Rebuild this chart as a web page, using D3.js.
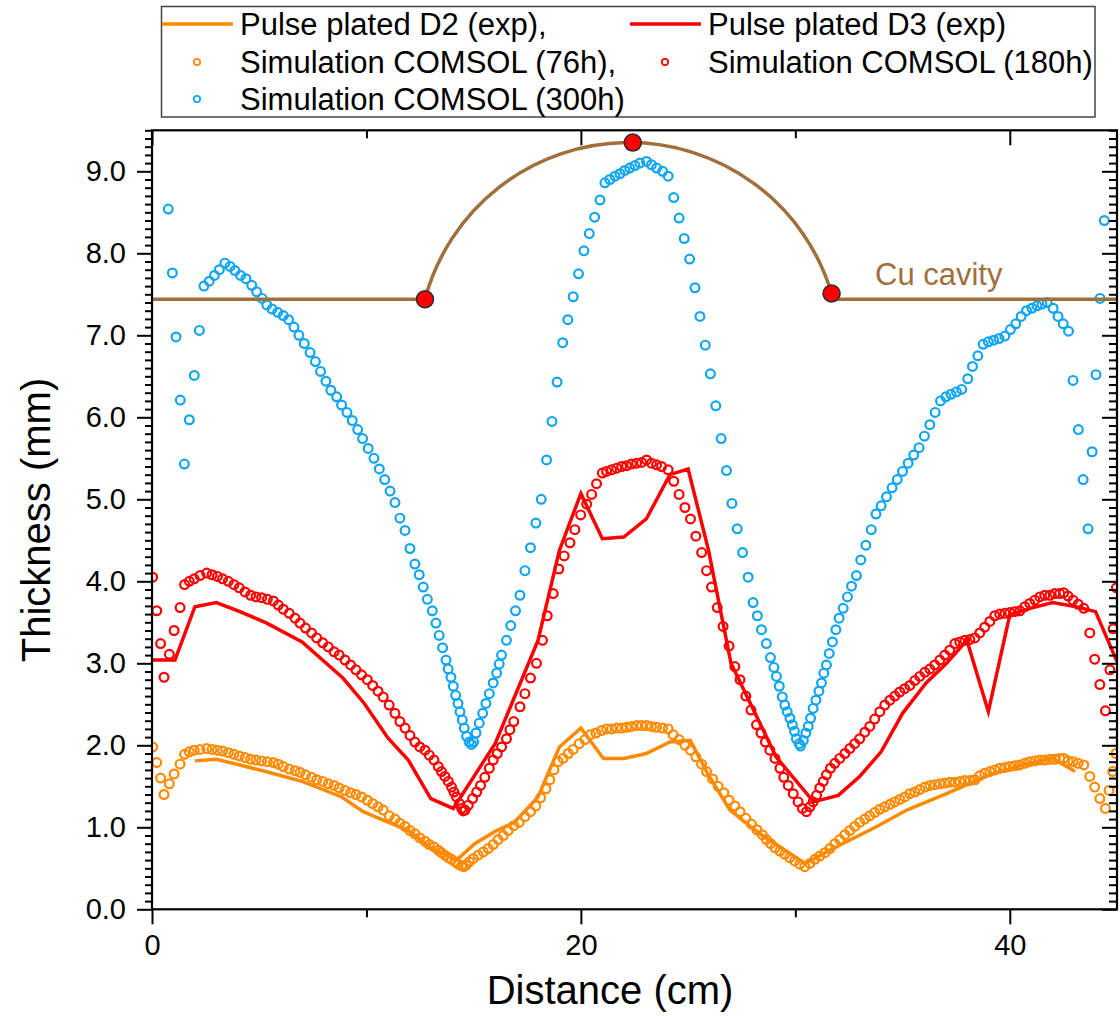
<!DOCTYPE html>
<html>
<head>
<meta charset="utf-8">
<script src="https://cdn.jsdelivr.net/npm/d3@7"></script>
<style>
  body { margin: 0; background: #fff; }
  svg { font-family: Arial, "Liberation Sans", sans-serif; }
</style>
</head>
<body>
<div id="chart"></div>
<script>
// experimental thickness profiles, [distance cm, thickness mm]
var d2Exp = [[2.0,1.81],[3.0,1.83],[4.1,1.76],[5.3,1.68],[7.0,1.56],[8.85,1.37],[9.85,1.19],[10.95,1.07],[11.9,0.97],[12.95,0.76],[14.2,0.6],[15.05,0.8],[16.0,0.95],[16.9,1.06],[18.0,1.37],[19.0,1.98],[20.0,2.21],[21.05,1.84],[22.0,1.84],[23.05,1.9],[24.15,2.04],[25.1,2.06],[25.9,1.66],[26.95,1.21],[28.3,0.93],[30.45,0.56],[31.9,0.76],[33.8,1.01],[35.2,1.21],[37.05,1.41],[39.05,1.64],[40.6,1.76],[42.0,1.84],[43.05,1.68]];
var d3Exp = [[0,3.04],[1.07,3.04],[2.0,3.69],[3.0,3.74],[4.1,3.63],[5.35,3.49],[7.0,3.26],[8.9,2.82],[9.9,2.51],[11.0,2.09],[11.95,1.82],[13.0,1.35],[14.05,1.23],[16.0,2.02],[18.0,3.28],[19.0,4.38],[20.0,5.07],[21.0,4.52],[22.0,4.54],[23.05,4.76],[24.15,5.3],[25.0,5.37],[25.95,4.38],[27.0,3.0],[29.1,1.86],[30.85,1.31],[32.0,1.39],[33.0,1.62],[34.0,1.92],[35.0,2.39],[36.1,2.76],[37.05,3.0],[38.0,3.28],[39.0,2.41],[40.0,3.59],[40.95,3.67],[42.0,3.74],[43.1,3.69],[44.0,3.63],[45.0,3.02]];

// COMSOL simulations
var sim76 = [[0.03,1.98],[0.22,1.79],[0.4,1.6],[0.56,1.4],[0.81,1.53],[1.03,1.65],[1.31,1.77],[1.52,1.89],[1.74,1.92],[1.97,1.94],[2.24,1.95],[2.55,1.96],[2.8,1.95],[3.05,1.94],[3.29,1.93],[3.56,1.91],[3.82,1.89],[4.07,1.87],[4.34,1.85],[4.6,1.83],[4.85,1.82],[5.11,1.81],[5.38,1.8],[5.66,1.79],[5.89,1.77],[6.12,1.74],[6.4,1.71],[6.67,1.69],[6.9,1.67],[7.16,1.64],[7.44,1.61],[7.68,1.58],[7.96,1.56],[8.22,1.53],[8.49,1.51],[8.73,1.48],[9.0,1.45],[9.26,1.42],[9.51,1.4],[9.77,1.37],[10.04,1.33],[10.29,1.29],[10.54,1.25],[10.78,1.21],[11.06,1.14],[11.33,1.1],[11.56,1.05],[11.8,1.01],[12.03,0.96],[12.26,0.92],[12.49,0.87],[12.73,0.83],[12.93,0.79],[13.15,0.76],[13.35,0.72],[13.5,0.69],[13.66,0.66],[13.82,0.63],[13.97,0.61],[14.13,0.58],[14.28,0.55],[14.44,0.53],[14.54,0.52],[14.65,0.54],[14.8,0.58],[14.98,0.62],[15.21,0.66],[15.45,0.7],[15.68,0.74],[15.91,0.79],[16.14,0.85],[16.38,0.9],[16.61,0.96],[16.87,1.02],[17.12,1.06],[17.39,1.13],[17.65,1.19],[17.9,1.26],[18.12,1.36],[18.37,1.47],[18.55,1.58],[18.74,1.7],[18.94,1.8],[19.17,1.84],[19.41,1.9],[19.64,1.95],[19.92,2.02],[20.19,2.07],[20.45,2.13],[20.7,2.15],[20.96,2.18],[21.2,2.2],[21.43,2.2],[21.67,2.21],[21.9,2.21],[22.13,2.22],[22.36,2.23],[22.6,2.24],[22.83,2.24],[23.06,2.24],[23.29,2.23],[23.53,2.22],[23.81,2.21],[24.07,2.2],[24.3,2.13],[24.58,2.07],[24.85,2.0],[25.11,1.94],[25.36,1.86],[25.63,1.77],[25.86,1.68],[26.14,1.59],[26.4,1.5],[26.67,1.42],[26.91,1.33],[27.18,1.26],[27.42,1.19],[27.69,1.11],[27.95,1.04],[28.21,0.97],[28.46,0.91],[28.65,0.85],[28.85,0.8],[29.05,0.75],[29.28,0.71],[29.51,0.67],[29.74,0.63],[29.97,0.59],[30.21,0.55],[30.44,0.52],[30.68,0.56],[30.91,0.61],[31.14,0.65],[31.38,0.69],[31.61,0.74],[31.84,0.8],[32.07,0.85],[32.31,0.91],[32.54,0.96],[32.77,1.01],[33.0,1.06],[33.24,1.1],[33.47,1.14],[33.7,1.18],[33.94,1.22],[34.17,1.25],[34.41,1.28],[34.64,1.31],[34.87,1.34],[35.1,1.37],[35.34,1.41],[35.57,1.43],[35.8,1.46],[36.04,1.49],[36.27,1.51],[36.5,1.52],[36.74,1.53],[36.97,1.54],[37.2,1.55],[37.44,1.55],[37.67,1.56],[37.9,1.57],[38.14,1.57],[38.37,1.58],[38.6,1.63],[38.83,1.66],[39.07,1.68],[39.3,1.7],[39.53,1.72],[39.77,1.73],[40.0,1.74],[40.23,1.75],[40.47,1.76],[40.7,1.78],[40.93,1.8],[41.17,1.81],[41.4,1.82],[41.63,1.82],[41.87,1.83],[42.1,1.83],[42.33,1.84],[42.52,1.84],[42.72,1.81],[42.95,1.8],[43.19,1.78],[43.45,1.76],[43.73,1.62],[43.96,1.49],[44.2,1.35],[44.46,1.23],[44.63,1.45],[44.8,1.68],[44.95,1.9]];
var sim180 = [[0.03,4.05],[0.22,3.64],[0.4,3.24],[0.56,2.83],[0.81,3.11],[1.03,3.4],[1.31,3.68],[1.52,3.96],[1.74,4.0],[1.97,4.03],[2.24,4.07],[2.55,4.1],[2.8,4.08],[3.05,4.06],[3.29,4.03],[3.56,4.0],[3.82,3.96],[4.07,3.92],[4.34,3.87],[4.6,3.83],[4.85,3.81],[5.11,3.8],[5.38,3.78],[5.66,3.76],[5.89,3.71],[6.12,3.66],[6.4,3.61],[6.67,3.55],[6.9,3.49],[7.16,3.43],[7.44,3.37],[7.68,3.31],[7.96,3.25],[8.22,3.2],[8.49,3.14],[8.73,3.1],[9.0,3.04],[9.26,2.98],[9.51,2.92],[9.77,2.86],[10.04,2.8],[10.29,2.73],[10.54,2.66],[10.78,2.59],[11.06,2.49],[11.33,2.39],[11.56,2.29],[11.8,2.21],[12.03,2.12],[12.26,2.04],[12.49,1.98],[12.73,1.94],[12.93,1.88],[13.15,1.82],[13.35,1.74],[13.5,1.68],[13.66,1.62],[13.82,1.56],[13.97,1.49],[14.08,1.43],[14.2,1.37],[14.33,1.29],[14.44,1.23],[14.51,1.2],[14.6,1.21],[14.75,1.27],[14.95,1.35],[15.14,1.43],[15.32,1.51],[15.52,1.61],[15.73,1.72],[15.91,1.82],[16.1,1.9],[16.3,1.98],[16.53,2.08],[16.69,2.19],[16.87,2.29],[17.16,2.47],[17.39,2.63],[17.65,2.82],[17.93,3.0],[18.21,3.28],[18.43,3.58],[18.71,3.85],[18.97,4.15],[19.22,4.31],[19.49,4.47],[19.72,4.63],[19.99,4.81],[20.27,4.94],[20.5,5.06],[20.73,5.19],[21.0,5.32],[21.2,5.34],[21.43,5.36],[21.67,5.38],[21.9,5.4],[22.13,5.41],[22.36,5.43],[22.6,5.44],[22.83,5.45],[23.06,5.48],[23.29,5.44],[23.53,5.42],[23.76,5.4],[24.07,5.36],[24.33,5.22],[24.58,5.06],[24.85,4.9],[25.11,4.76],[25.36,4.55],[25.63,4.35],[25.86,4.13],[26.09,3.93],[26.36,3.68],[26.63,3.45],[26.91,3.21],[27.18,2.96],[27.42,2.8],[27.69,2.6],[27.93,2.43],[28.19,2.25],[28.4,2.15],[28.6,2.04],[28.81,1.94],[29.05,1.84],[29.28,1.72],[29.46,1.61],[29.67,1.51],[29.9,1.41],[30.13,1.31],[30.33,1.23],[30.52,1.19],[30.68,1.25],[30.83,1.31],[30.99,1.39],[31.14,1.48],[31.3,1.56],[31.45,1.64],[31.64,1.72],[31.84,1.78],[32.07,1.84],[32.31,1.9],[32.54,1.96],[32.77,2.02],[33.0,2.08],[33.24,2.16],[33.47,2.23],[33.7,2.32],[33.94,2.41],[34.17,2.49],[34.41,2.55],[34.64,2.6],[34.87,2.65],[35.1,2.69],[35.34,2.73],[35.57,2.79],[35.8,2.84],[36.04,2.89],[36.27,2.93],[36.5,2.98],[36.74,3.04],[36.97,3.1],[37.2,3.16],[37.44,3.24],[37.67,3.26],[37.9,3.28],[38.14,3.29],[38.37,3.31],[38.6,3.37],[38.83,3.44],[39.07,3.51],[39.3,3.58],[39.53,3.6],[39.77,3.61],[40.0,3.62],[40.23,3.63],[40.47,3.64],[40.7,3.69],[40.93,3.73],[41.17,3.77],[41.4,3.81],[41.63,3.83],[41.87,3.83],[42.1,3.85],[42.33,3.85],[42.52,3.86],[42.72,3.82],[42.95,3.77],[43.19,3.72],[43.45,3.67],[43.73,3.37],[43.96,3.05],[44.2,2.74],[44.46,2.42],[44.67,2.92],[44.82,3.42],[44.97,3.92]];
var sim300 = [[0.76,8.54],[0.95,7.76],[1.12,6.98],[1.32,6.21],[1.51,5.43],[1.74,5.97],[1.97,6.51],[2.21,7.06],[2.42,7.6],[2.67,7.66],[2.91,7.73],[3.14,7.8],[3.4,7.88],[3.64,7.84],[3.87,7.79],[4.13,7.73],[4.38,7.69],[4.65,7.61],[4.88,7.53],[5.13,7.45],[5.35,7.37],[5.6,7.32],[5.86,7.28],[6.12,7.24],[6.37,7.19],[6.62,7.1],[6.85,7.0],[7.1,6.9],[7.37,6.79],[7.62,6.68],[7.86,6.56],[8.11,6.44],[8.34,6.33],[8.61,6.25],[8.84,6.15],[9.09,6.06],[9.34,5.96],[9.59,5.85],[9.82,5.74],[10.08,5.62],[10.35,5.5],[10.6,5.37],[10.85,5.24],[11.1,5.1],[11.33,4.96],[11.56,4.77],[11.8,4.62],[12.03,4.4],[12.26,4.21],[12.46,4.08],[12.65,3.93],[12.84,3.78],[13.07,3.64],[13.24,3.49],[13.39,3.34],[13.55,3.19],[13.71,3.04],[13.81,2.93],[13.94,2.83],[14.05,2.72],[14.16,2.61],[14.27,2.51],[14.36,2.41],[14.47,2.31],[14.56,2.21],[14.67,2.11],[14.79,2.04],[14.9,2.01],[15.0,2.04],[15.11,2.15],[15.26,2.27],[15.42,2.39],[15.57,2.51],[15.73,2.63],[15.91,2.76],[16.07,2.88],[16.19,2.99],[16.3,3.1],[16.53,3.28],[16.73,3.46],[16.95,3.64],[17.16,3.83],[17.39,4.13],[17.65,4.41],[17.9,4.71],[18.15,5.0],[18.4,5.48],[18.65,5.95],[18.89,6.43],[19.15,6.91],[19.39,7.19],[19.64,7.47],[19.89,7.75],[20.14,8.03],[20.39,8.24],[20.64,8.44],[20.89,8.65],[21.12,8.86],[21.35,8.9],[21.59,8.94],[21.82,8.97],[22.05,9.01],[22.28,9.04],[22.52,9.07],[22.75,9.1],[23.06,9.12],[23.29,9.08],[23.53,9.04],[23.81,9.0],[24.07,8.94],[24.33,8.68],[24.58,8.43],[24.82,8.18],[25.07,7.93],[25.32,7.58],[25.55,7.23],[25.8,6.88],[26.04,6.53],[26.29,6.14],[26.54,5.74],[26.79,5.35],[27.04,4.95],[27.29,4.64],[27.54,4.35],[27.8,4.05],[28.03,3.74],[28.23,3.58],[28.42,3.41],[28.65,3.24],[28.84,3.07],[29.0,2.95],[29.12,2.84],[29.25,2.72],[29.39,2.59],[29.51,2.49],[29.62,2.41],[29.75,2.33],[29.86,2.25],[29.96,2.17],[30.05,2.08],[30.18,2.02],[30.24,1.99],[30.37,2.06],[30.49,2.15],[30.6,2.23],[30.71,2.33],[30.83,2.45],[30.96,2.55],[31.1,2.66],[31.22,2.76],[31.33,2.88],[31.45,2.98],[31.58,3.12],[31.73,3.26],[31.89,3.41],[32.04,3.55],[32.23,3.67],[32.43,3.81],[32.62,3.94],[32.85,4.07],[33.05,4.26],[33.29,4.44],[33.54,4.63],[33.76,4.82],[34.0,4.92],[34.25,5.03],[34.51,5.14],[34.75,5.24],[35.0,5.34],[35.26,5.44],[35.52,5.54],[35.77,5.63],[36.02,5.77],[36.27,5.91],[36.52,6.06],[36.77,6.2],[37.02,6.25],[37.26,6.28],[37.51,6.31],[37.76,6.34],[38.04,6.47],[38.26,6.62],[38.51,6.75],[38.76,6.89],[39.0,6.92],[39.25,6.94],[39.5,6.96],[39.77,6.99],[40.03,7.07],[40.28,7.14],[40.53,7.23],[40.78,7.3],[41.03,7.33],[41.27,7.36],[41.5,7.38],[41.74,7.4],[42.02,7.33],[42.25,7.23],[42.49,7.14],[42.74,7.05],[42.95,6.45],[43.2,5.85],[43.42,5.24],[43.65,4.64],[43.84,5.58],[44.02,6.52],[44.21,7.45],[44.41,8.4]];

// Cu cavity outline: flat level and the three marked points of the arc
var cavityLevel = 7.44;
var cavityDots = [[12.73,7.44],[22.42,9.35],[31.69,7.51]];

var xMajor = [0,20,40];
var xMinor = [10,30];
var yMajor = [0,1,2,3,4,5,6,7,8,9];

var series = [
	{name: "Pulse plated D2 (exp),", type: "line", color: "#ff8a00", lx: 162, ly: 24},
	{name: "Pulse plated D3 (exp)", type: "line", color: "#ff0000", lx: 630, ly: 24},
	{name: "Simulation COMSOL (76h),", type: "dot", color: "#ff8a00", lx: 162, ly: 62},
	{name: "Simulation COMSOL (180h)", type: "dot", color: "#ff0000", lx: 630, ly: 62},
	{name: "Simulation COMSOL (300h)", type: "dot", color: "#12a5f2", lx: 162, ly: 99}
];

(function() {
	var width = 1120;
	var height = 1016;
	var pLeft = 152, pRight = 1117, pTop = 130.3, pBottom = 909.3;
	var brown = "#a0703c";

	var svg = d3.select("#chart").append("svg")
		.attr("width", width)
		.attr("height", height);

	var x = d3.scaleLinear().domain([0, 45]).range([pLeft, pRight]);
	var y = d3.scaleLinear().domain([0, 9.5]).range([pBottom, pTop]);

	svg.append("clipPath").attr("id", "plotclip")
		.append("rect")
		.attr("x", pLeft).attr("y", pTop)
		.attr("width", pRight - pLeft).attr("height", pBottom - pTop);

	var plot = svg.append("g").attr("clip-path", "url(#plotclip)");

	function drawDots(data, color) {
		plot.append("g").selectAll("circle")
			.data(data)
			.enter().append("circle")
			.attr("cx", function(d) { return x(d[0]); })
			.attr("cy", function(d) { return y(d[1]); })
			.attr("r", 4.4)
			.attr("fill", "none")
			.attr("stroke", color)
			.attr("stroke-width", 2.2);
	}

	drawDots(sim300, "#12a5f2");
	drawDots(sim180, "#ff0000");
	drawDots(sim76, "#ff8a00");

	var line = d3.line()
		.x(function(d) { return x(d[0]); })
		.y(function(d) { return y(d[1]); });

	plot.append("path").datum(d3Exp)
		.attr("d", line)
		.attr("fill", "none")
		.attr("stroke", "#ff0000")
		.attr("stroke-width", 3.5);
	plot.append("path").datum(d2Exp)
		.attr("d", line)
		.attr("fill", "none")
		.attr("stroke", "#ff8a00")
		.attr("stroke-width", 3.5);

	// cavity: flat parts plus a circular arc through the three dots
	var pa = [x(cavityDots[0][0]), y(cavityDots[0][1])];
	var pb = [x(cavityDots[1][0]), y(cavityDots[1][1])];
	var pc = [x(cavityDots[2][0]), y(cavityDots[2][1])];
	var dd = 2*(pa[0]*(pb[1]-pc[1]) + pb[0]*(pc[1]-pa[1]) + pc[0]*(pa[1]-pb[1]));
	var sa = pa[0]*pa[0]+pa[1]*pa[1], sb = pb[0]*pb[0]+pb[1]*pb[1], sc = pc[0]*pc[0]+pc[1]*pc[1];
	var ux = (sa*(pb[1]-pc[1]) + sb*(pc[1]-pa[1]) + sc*(pa[1]-pb[1]))/dd;
	var uy = (sa*(pc[0]-pb[0]) + sb*(pa[0]-pc[0]) + sc*(pb[0]-pa[0]))/dd;
	var rr = Math.hypot(pa[0]-ux, pa[1]-uy);

	var cav = d3.path();
	cav.moveTo(x(0), y(cavityLevel));
	cav.lineTo(pa[0], y(cavityLevel));
	cav.moveTo(pa[0], pa[1]);
	cav.arc(ux, uy, rr, Math.atan2(pa[1]-uy, pa[0]-ux), Math.atan2(pc[1]-uy, pc[0]-ux), false);
	cav.moveTo(pc[0], y(cavityLevel));
	cav.lineTo(x(45), y(cavityLevel));

	plot.append("path")
		.attr("d", cav.toString())
		.attr("fill", "none")
		.attr("stroke", brown)
		.attr("stroke-width", 3.5);

	svg.append("g").selectAll("circle")
		.data(cavityDots)
		.enter().append("circle")
		.attr("cx", function(d) { return x(d[0]); })
		.attr("cy", function(d) { return y(d[1]); })
		.attr("r", 8.5)
		.attr("fill", "#ff0000")
		.attr("stroke", "#2a2a2a")
		.attr("stroke-width", 1.5);

	svg.append("text")
		.attr("x", 875)
		.attr("y", 285)
		.attr("font-size", 31)
		.attr("fill", brown)
		.text("Cu cavity");

	// axes
	var yMinor = d3.range(0, 96).map(function(i) { return i/10; })
		.filter(function(v) { return Math.abs(v - Math.round(v)) > 0.01; });

	function styleAxis(g) {
		g.select(".domain").remove();
		g.selectAll("line").attr("stroke", "#000").attr("stroke-width", 2);
		g.selectAll("text").attr("font-size", 29).attr("fill", "#000")
			.attr("font-family", "Arial, 'Liberation Sans', sans-serif");
	}

	svg.append("g").attr("transform", "translate(0," + pBottom + ")")
		.call(d3.axisBottom(x).tickValues(xMajor).tickSize(15).tickPadding(10).tickFormat(d3.format("d")))
		.call(styleAxis);
	svg.append("g").attr("transform", "translate(0," + pBottom + ")")
		.call(d3.axisBottom(x).tickValues(xMinor).tickSize(8).tickFormat(""))
		.call(styleAxis);
	svg.append("g").attr("transform", "translate(0," + pTop + ")")
		.call(d3.axisBottom(x).tickValues(xMajor).tickSize(15).tickFormat(""))
		.call(styleAxis);
	svg.append("g").attr("transform", "translate(0," + pTop + ")")
		.call(d3.axisBottom(x).tickValues(xMinor).tickSize(8).tickFormat(""))
		.call(styleAxis);

	svg.append("g").attr("transform", "translate(" + pLeft + ",0)")
		.call(d3.axisLeft(y).tickValues(yMajor).tickSize(15).tickPadding(11).tickFormat(d3.format(".1f")))
		.call(styleAxis);
	svg.append("g").attr("transform", "translate(" + pLeft + ",0)")
		.call(d3.axisLeft(y).tickValues(yMinor).tickSize(7).tickFormat(""))
		.call(styleAxis);
	svg.append("g").attr("transform", "translate(" + pRight + ",0)")
		.call(d3.axisLeft(y).tickValues(yMajor).tickSize(15).tickFormat(""))
		.call(styleAxis);
	svg.append("g").attr("transform", "translate(" + pRight + ",0)")
		.call(d3.axisLeft(y).tickValues(yMinor).tickSize(8).tickFormat(""))
		.call(styleAxis);

	svg.append("rect")
		.attr("x", pLeft).attr("y", pTop)
		.attr("width", pRight - pLeft).attr("height", pBottom - pTop)
		.attr("fill", "none")
		.attr("stroke", "#000")
		.attr("stroke-width", 2.2);

	svg.append("text")
		.attr("x", 610)
		.attr("y", 1004)
		.attr("text-anchor", "middle")
		.attr("font-size", 40)
		.text("Distance (cm)");

	svg.append("text")
		.attr("transform", "translate(50,520) rotate(-90)")
		.attr("text-anchor", "middle")
		.attr("font-size", 40)
		.text("Thickness (mm)");

	// legend
	var legend = svg.append("g");
	legend.append("rect")
		.attr("x", 161.5).attr("y", 6.5)
		.attr("width", 933.5).attr("height", 110.5)
		.attr("fill", "#fff")
		.attr("stroke", "#444")
		.attr("stroke-width", 1.5);

	var items = legend.selectAll("g.item")
		.data(series)
		.enter().append("g")
		.attr("class", "item")
		.attr("transform", function(d) { return "translate(" + d.lx + "," + d.ly + ")"; });

	items.filter(function(d) { return d.type === "line"; })
		.append("line")
		.attr("x1", 0).attr("x2", 71)
		.attr("stroke", function(d) { return d.color; })
		.attr("stroke-width", 3.5);

	items.filter(function(d) { return d.type === "dot"; })
		.append("circle")
		.attr("cx", 35).attr("cy", 0)
		.attr("r", 3.2)
		.attr("fill", "none")
		.attr("stroke", function(d) { return d.color; })
		.attr("stroke-width", 1.7);

	items.append("text")
		.attr("x", 78)
		.attr("y", 11)
		.attr("font-size", 31)
		.attr("fill", "#000")
		.text(function(d) { return d.name; });
})();
</script>
</body>
</html>
